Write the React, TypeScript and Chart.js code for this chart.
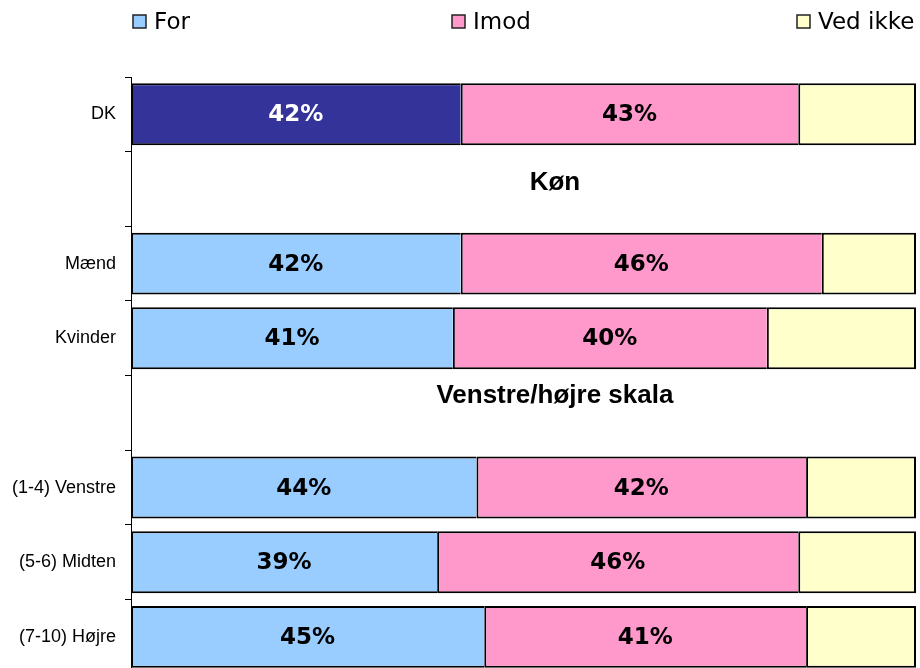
import React, { useEffect, useRef } from "react";
import { Chart, registerables } from "chart.js";

Chart.register(...registerables);

const categories = ["DK", "", "Mænd", "Kvinder", "", "(1-4) Venstre", "(5-6) Midten", "(7-10) Højre"];
const seriesNames = ["For", "Imod", "Ved ikke"];
const forValues = [42, null, 42, 41, null, 44, 39, 45];
const imodValues = [43, null, 46, 40, null, 42, 46, 41];
const vedIkkeValues = [15, null, 12, 19, null, 14, 15, 14];
const groupHeaders = ["", "Køn", "", "", "Venstre/højre skala", "", "", ""];

const colorFor = "#99CCFF";
const colorForTotal = "#333399";
const colorImod = "#FF99CC";
const colorVed = "#FFFFCC";

const W = 920;
const H = 694;

const legendOffsets = [2, 321, 666];
const headerYOffsets = [0, -6, 0, 0, -17, 0, 0, 0];

export default function App() {
  const ref = useRef<HTMLCanvasElement | null>(null);

  useEffect(() => {
    if (!ref.current) return;
    const forColors = categories.map((c) => (c === "DK" ? colorForTotal : colorFor));
    const legendColors = [colorFor, colorImod, colorVed];
    const innerBorder = { top: 2, bottom: 2, left: 2, right: 0 };
    const outerBorder = { top: 2, bottom: 2, left: 2, right: 2 };

    const labelsPlugin = {
      id: "barLabels",
      afterDatasetsDraw(chart: any) {
        const ctx = chart.ctx;
        ctx.save();
        ctx.font = "bold 23px 'DejaVu Sans'";
        ctx.textAlign = "center";
        ctx.textBaseline = "middle";
        [0, 1].forEach((di) => {
          const meta = chart.getDatasetMeta(di);
          const data = chart.data.datasets[di].data;
          meta.data.forEach((el: any, i: number) => {
            const v = data[i];
            if (v === null || v === undefined) return;
            const p = el.getCenterPoint();
            ctx.fillStyle = di === 0 && categories[i] === "DK" ? "#FFFFFF" : "#000000";
            ctx.fillText(`${v}%`, p.x, p.y + 1);
          });
        });
        // group headers
        const xs = chart.scales.x;
        const ys = chart.scales.y;
        ctx.font = "bold 26px 'Liberation Sans'";
        ctx.fillStyle = "#000000";
        groupHeaders.forEach((h, i) => {
          if (!h) return;
          ctx.fillText(h, xs.getPixelForValue(54), ys.getPixelForValue(i) + headerYOffsets[i]);
        });
        // legend
        ctx.font = "23px 'DejaVu Sans'";
        ctx.textAlign = "left";
        ctx.textBaseline = "alphabetic";
        seriesNames.forEach((name, i) => {
          const x = chart.chartArea.left + legendOffsets[i];
          ctx.fillStyle = legendColors[i];
          ctx.fillRect(x, 15, 13, 13);
          ctx.strokeStyle = "#222222";
          ctx.lineWidth = 1.5;
          ctx.strokeRect(x, 15, 13, 13);
          ctx.fillStyle = "#000000";
          ctx.fillText(name, x + 21, 29);
        });
        ctx.restore();
      },
    };

    const chart = new Chart(ref.current, {
      type: "bar",
      data: {
        labels: categories,
        datasets: [
          { label: seriesNames[0], data: forValues, backgroundColor: forColors, borderColor: "#000000", borderWidth: innerBorder, borderSkipped: false },
          { label: seriesNames[1], data: imodValues, backgroundColor: colorImod, borderColor: "#000000", borderWidth: innerBorder, borderSkipped: false },
          { label: seriesNames[2], data: vedIkkeValues, backgroundColor: colorVed, borderColor: "#000000", borderWidth: outerBorder, borderSkipped: false },
        ],
      },
      options: {
        indexAxis: "y",
        responsive: false,
        animation: false,
        devicePixelRatio: 1,
        layout: { padding: { top: 77, right: 4, bottom: 0, left: 0 } },
        datasets: { bar: { categoryPercentage: 1, barPercentage: 0.83 } },
        plugins: { legend: { display: false }, tooltip: { enabled: false } },
        scales: {
          x: { stacked: true, min: 0, max: 100, display: false },
          y: {
            stacked: true,
            offset: true,
            grid: { offset: true, drawOnChartArea: false, drawTicks: true, tickLength: 6, color: "#000000", lineWidth: 1 },
            border: { display: true, color: "#000000", width: 1 },
            ticks: {
              color: "#000000",
              padding: 9,
              font: { family: "'Liberation Sans'", size: 18 },
              autoSkip: false,
            },
            afterFit(scale: any) {
              scale.width = 131;
            },
          },
        },
      } as any,
      plugins: [labelsPlugin],
    });
    return () => chart.destroy();
  }, []);

  return (
    <div style={{ position: "fixed", left: 0, top: 0, width: 920, height: 668, overflow: "hidden", background: "#fff" }}>
      <canvas ref={ref} width={W} height={H} style={{ width: W, height: H, display: "block" }} />
    </div>
  );
}
